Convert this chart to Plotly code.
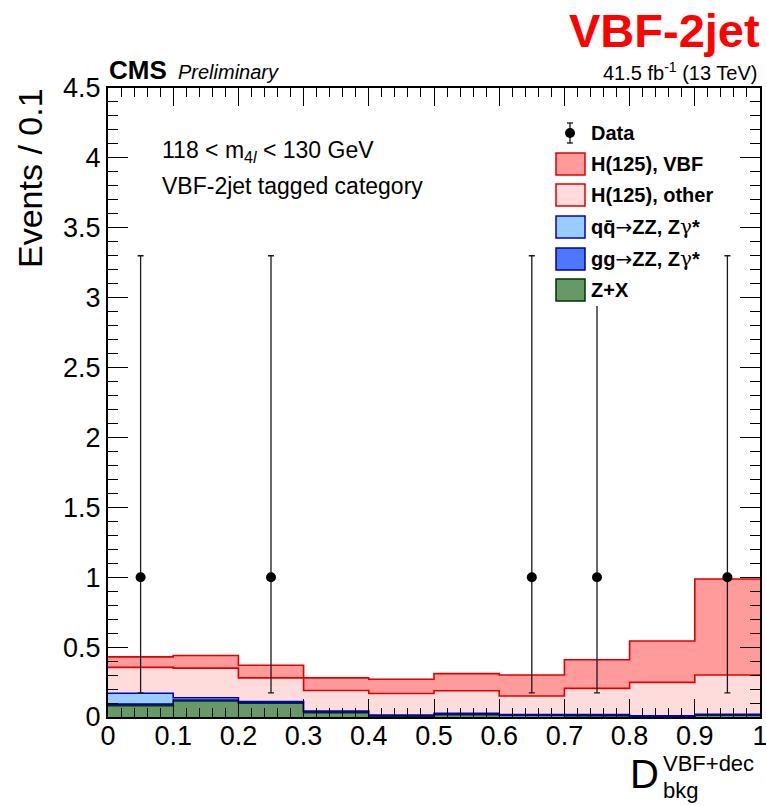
import plotly.graph_objects as go

# ---------------- data ----------------
bin_edges = [0.0, 0.1, 0.2, 0.3, 0.4, 0.5, 0.6, 0.7, 0.8, 0.9, 1.0]

# per-bin contributions (stacked bottom -> top)
z_plus_x = [0.080, 0.115, 0.098, 0.030, 0.005, 0.016, 0.012, 0.010, 0.003, 0.013]
gg_zz    = [0.012, 0.007, 0.007, 0.010, 0.007, 0.008, 0.004, 0.006, 0.004, 0.005]
qq_zz    = [0.078, 0.016, 0.005, 0.003, 0.002, 0.002, 0.002, 0.002, 0.001, 0.002]
h_other  = [0.185, 0.212, 0.170, 0.147, 0.154, 0.162, 0.132, 0.187, 0.240, 0.280]
h_vbf    = [0.075, 0.090, 0.090, 0.090, 0.102, 0.122, 0.150, 0.205, 0.296, 0.687]

data_x = [0.05, 0.25, 0.65, 0.75, 0.95]
data_y = [1, 1, 1, 1, 1]
data_err_hi = [2.30, 2.30, 2.30, 2.30, 2.30]
data_err_lo = [0.827, 0.827, 0.827, 0.827, 0.827]

x_ticks = [0, 0.1, 0.2, 0.3, 0.4, 0.5, 0.6, 0.7, 0.8, 0.9, 1]
x_ticklabels = ["0", "0.1", "0.2", "0.3", "0.4", "0.5", "0.6", "0.7", "0.8", "0.9", "1"]
y_ticks = [0, 0.5, 1, 1.5, 2, 2.5, 3, 3.5, 4, 4.5]
y_ticklabels = ["0", "0.5", "1", "1.5", "2", "2.5", "3", "3.5", "4", "4.5"]

# ---------------- styles ----------------
FONT = "Liberation Sans"
ARROW = '<span style="font-family:DejaVu Sans;font-weight:normal">→</span>'
GAMMA = '<span style="font-family:DejaVu Serif;font-weight:normal">γ</span>'
layers = [
    ("Z+X", z_plus_x, "#669966", "#003300"),
    ("gg" + ARROW + "ZZ, Z" + GAMMA + "*", gg_zz, "#4b78ff", "#000099"),
    ("qq̄" + ARROW + "ZZ, Z" + GAMMA + "*", qq_zz, "#99ccff", "#0000cc"),
    ("H(125), other", h_other, "#ffdcdc", "#e00000"),
    ("H(125), VBF", h_vbf, "#ff9b9b", "#e00000"),
]

fig = go.Figure()

cum = [0.0] * len(z_plus_x)
for i, (name, vals, fc, lc) in enumerate(layers):
    cum = [c + v for c, v in zip(cum, vals)]
    fig.add_trace(go.Scatter(
        x=bin_edges, y=cum + [cum[-1]], mode="lines", name=name,
        line=dict(shape="hv", color=lc, width=1.6),
        fill="tozeroy" if i == 0 else "tonexty", fillcolor=fc,
        showlegend=False, hoverinfo="skip"))

fig.add_trace(go.Scatter(
    x=data_x, y=data_y, mode="markers", name="Data",
    marker=dict(color="black", size=10),
    error_y=dict(type="data", symmetric=False, array=data_err_hi,
                 arrayminus=data_err_lo, color="#1a1a1a", thickness=1.3, width=3),
    showlegend=False))

# ---------------- layout ----------------
L, R, T, B = 108, 760, 88, 717
W, H = 766, 806

def px(p):
    return (p - L) / (R - L)

def py(p):
    return (B - p) / (B - T)

axis_common = dict(
    ticks="inside", tickcolor="black", tickwidth=1,
    showline=True, linecolor="black", linewidth=2, mirror="ticks",
    showgrid=False, zeroline=False, automargin=False, ticklabeloverflow="allow",
    tickfont=dict(family=FONT, size=27, color="black"),
)

fig.update_layout(
    width=W, height=H,
    margin=dict(l=L, r=W - R, t=T, b=H - B, autoexpand=False),
    plot_bgcolor="white", paper_bgcolor="white",
    showlegend=False,
    xaxis=dict(range=[0, 1], tickvals=x_ticks, ticktext=x_ticklabels, ticklen=18,
               ticklabelstandoff=-6,
               minor=dict(dtick=0.02, tick0=0, ticks="inside", ticklen=9,
                          tickcolor="black", tickwidth=1, showgrid=False),
               **axis_common),
    yaxis=dict(range=[0, 4.5], tickvals=y_ticks, ticktext=y_ticklabels, ticklen=20,
               minor=dict(dtick=0.1, tick0=0, ticks="inside", ticklen=10,
                          tickcolor="black", tickwidth=1, showgrid=False),
               **axis_common),
)

def note(text, x, y, size, xanchor="left", color="black", **kw):
    return dict(text=text, x=px(x), y=py(y), xref="paper", yref="paper",
                xanchor=xanchor, yanchor="middle", showarrow=False, borderpad=0,
                font=dict(family=FONT, size=size, color=color), **kw)

ann = []
ann.append(note("<b>VBF-2jet</b>", 761, 30, 47, xanchor="right", color="#ff0000"))
ann.append(note("<b>CMS</b>", 108, 70, 26))
ann.append(note("<i>Preliminary</i>", 177, 72, 20))
ann.append(note("41.5 fb<sup>-1</sup> (13 TeV)", 758, 71, 20, xanchor="right"))
ann.append(note("118 < m<sub>4<i>l</i></sub> < 130 GeV", 161, 151, 23))
ann.append(note("VBF-2jet tagged category", 161, 186, 23))
ann.append(note("Events / 0.1", 30, 178, 34, xanchor="center", textangle=-90))
# x-axis title D_bkg^{VBF+dec}
ann.append(note("D", 660, 774, 40, xanchor="right"))
ann.append(note("VBF+dec", 662, 763, 22))
ann.append(note("bkg", 662, 790, 22))

# ---------------- legend (drawn manually, styles from the layers) ----------------
shapes = []
shapes.append(dict(type="rect", xref="paper", yref="paper", layer="above",
                   x0=px(545), x1=px(716), y0=py(306), y1=py(114),
                   fillcolor="white", line=dict(width=0)))
# Data glyph
shapes.append(dict(type="line", xref="paper", yref="paper", layer="above",
                   x0=px(570), x1=px(570), y0=py(123), y1=py(143),
                   line=dict(color="black", width=1.2)))
for yy in (123, 143):
    shapes.append(dict(type="line", xref="paper", yref="paper", layer="above",
                       x0=px(567), x1=px(573), y0=py(yy), y1=py(yy),
                       line=dict(color="black", width=1.2)))
shapes.append(dict(type="circle", xref="paper", yref="paper", layer="above",
                   x0=px(565), x1=px(575), y0=py(138), y1=py(128),
                   fillcolor="black", line=dict(color="black", width=0)))
ann.append(note("<b>Data</b>", 590, 133, 20))

legend_rows = [layers[4], layers[3], layers[2], layers[1], layers[0]]
row_y = [164, 195, 227, 259, 290]
for (name, _, fc, lc), yc in zip(legend_rows, row_y):
    shapes.append(dict(type="rect", xref="paper", yref="paper", layer="above",
                       x0=px(556), x1=px(585), y0=py(yc + 11), y1=py(yc - 11),
                       fillcolor=fc, line=dict(color=lc, width=1.5)))
    ann.append(note("<b>" + name + "</b>", 590, yc, 20))

fig.update_layout(annotations=ann, shapes=shapes)

fig.write_html("out.html")
